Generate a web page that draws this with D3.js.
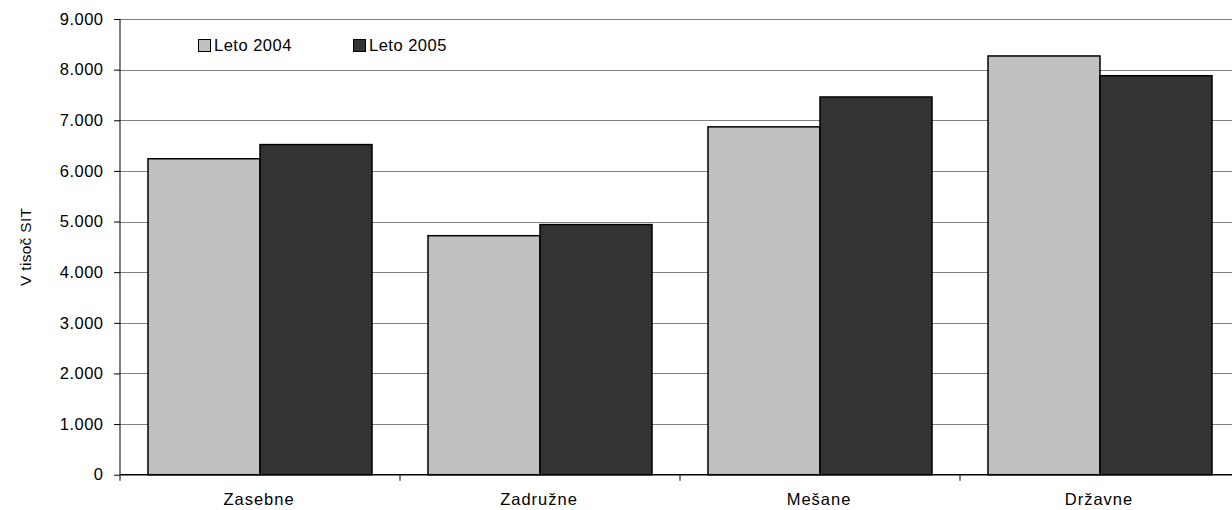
<!DOCTYPE html>
<html><head><meta charset="utf-8">
<script src="https://cdn.jsdelivr.net/npm/d3@7"></script>
<style>body{margin:0;background:#fff;}svg{display:block;font-family:"Liberation Sans",Arial,sans-serif;}</style>
</head><body>
<svg id="c" width="1232" height="510"></svg>
<script>
const categories = ["Zasebne", "Zadružne", "Mešane", "Državne"];
const seriesNames = ["Leto 2004", "Leto 2005"];
const values2004 = [6240, 4720, 6870, 8270];
const values2005 = [6520, 4940, 7460, 7880];
const yTicks = [0, 1000, 2000, 3000, 4000, 5000, 6000, 7000, 8000, 9000];
const colors = ["#c0c0c0", "#333333"];

const svg = d3.select("#c");
const m = {left: 120, top: 19, right: -8, bottom: 35};
const W = 1232, H = 510;
const x0 = d3.scaleBand().domain(categories).range([m.left, W - m.right]).paddingInner(0).paddingOuter(0);
const y = d3.scaleLinear().domain([0, 9000]).range([H - m.bottom - 0.3, m.top]);
const x1 = d3.scaleBand().domain(seriesNames).range([0, x0.bandwidth()]).paddingOuter(0.25).paddingInner(0);

const fmt = v => d3.format(",")(v).replace(/,/g, ".");
const FS = 16.5;

// gridlines
svg.append("g").selectAll("line").data(yTicks.filter(d => d > 0)).join("line")
  .attr("x1", m.left).attr("x2", W).attr("y1", d => Math.round(y(d)) + 0.5).attr("y2", d => Math.round(y(d)) + 0.5)
  .attr("stroke", "#808080").attr("stroke-width", 1);

// bars
const data = categories.map((c, i) => ({c, vals: [values2004[i], values2005[i]]}));
const g = svg.append("g").selectAll("g").data(data).join("g").attr("transform", d => `translate(${x0(d.c)},0)`);
g.selectAll("rect").data(d => d.vals.map((v, j) => ({k: seriesNames[j], v, j}))).join("rect")
  .attr("x", d => x1(d.k)).attr("width", x1.bandwidth())
  .attr("y", d => y(d.v)).attr("height", d => y(0) - y(d.v))
  .attr("fill", d => colors[d.j]).attr("stroke", "#000").attr("stroke-width", 1.5);

// y axis
const ya = svg.append("g").attr("transform", `translate(${m.left},0)`)
  .call(d3.axisLeft(y).tickValues(yTicks).tickFormat(fmt).tickSize(6).tickPadding(11));
ya.select(".domain").attr("d", `M0,${y(9000)}V${y(0) + 6}`).attr("stroke", "#000");
ya.selectAll("text").attr("font-size", FS).attr("letter-spacing", "0.5px").attr("fill", "#000")
  .attr("font-family", "Liberation Sans, Arial, sans-serif").attr("dx", "0.5");
ya.selectAll("line").attr("stroke", "#000");

// x axis
const xa = svg.append("g");
xa.append("line").attr("x1", m.left).attr("x2", W).attr("y1", y(0)).attr("y2", y(0)).attr("stroke", "#000").attr("stroke-width", 1.5);
xa.selectAll("line.t").data(categories.slice(1)).join("line").attr("class", "t")
  .attr("x1", d => x0(d)).attr("x2", d => x0(d)).attr("y1", y(0)).attr("y2", y(0) + 6).attr("stroke", "#000");
xa.selectAll("text").data(categories).join("text")
  .attr("x", d => x0(d) + x0.bandwidth() / 2 - 1).attr("y", 505)
  .attr("text-anchor", "middle").attr("font-size", FS).attr("letter-spacing", "1px").text(d => d);

// y title
svg.append("text").attr("transform", `translate(31,${(y(0) + y(9000)) / 2}) rotate(-90)`)
  .attr("text-anchor", "middle").attr("font-size", 15.5).attr("letter-spacing", "0.3px").text("V tisoč SIT");

// legend
const lg = svg.append("g");
const lx = [198, 353];
seriesNames.forEach((s, i) => {
  lg.append("rect").attr("x", lx[i] + 0.5).attr("y", 39.5).attr("width", 12).attr("height", 12)
    .attr("fill", colors[i]).attr("stroke", "#000").attr("stroke-width", 1);
  lg.append("text").attr("x", lx[i] + 16).attr("y", 51).attr("font-size", FS).attr("letter-spacing", "0.5px").text(s);
});
</script>
</body></html>
